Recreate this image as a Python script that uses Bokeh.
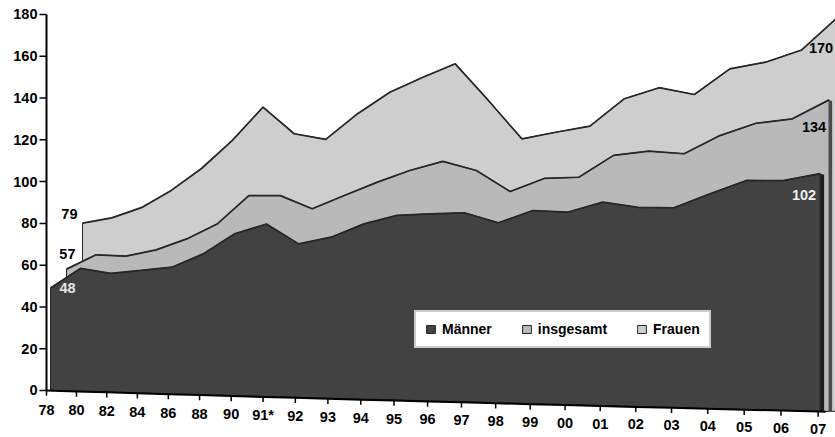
from bokeh.plotting import figure
from bokeh.models import Range1d, Legend, LegendItem
from bokeh.core.properties import value
from bokeh.embed import file_html
from bokeh.resources import INLINE

# ---------------- data ----------------
years = ["78", "80", "82", "84", "86", "88", "90", "91*", "92", "93", "94", "95",
         "96", "97", "98", "99", "00", "01", "02", "03", "04", "05", "06", "07"]
maenner = [48, 57.5, 55.3, 56.9, 58.6, 65.0, 74.5, 79.1, 70.0, 73.2, 79.4, 83.3,
           84.1, 84.6, 80.1, 85.7, 85.0, 89.5, 87.2, 87.1, 93.2, 99.1, 99.0, 102]
insgesamt = [57, 64.0, 63.5, 66.6, 71.9, 79.1, 92.3, 92.3, 86.2, 92.4, 98.4, 103.8,
             107.9, 103.7, 94.2, 100.1, 100.6, 110.3, 112.1, 110.9, 118.8, 124.1, 125.9, 134]
frauen = [79, 81.6, 86.5, 94.7, 105.0, 118.0, 133.5, 121.0, 118.3, 130.0, 139.7, 146.2,
          152.2, 135.4, 117.9, 120.8, 123.4, 135.5, 140.2, 137.0, 148.1, 150.8, 155.9, 170]
series_names = ["Männer", "insgesamt", "Frauen"]
y_ticks = [0, 20, 40, 60, 80, 100, 120, 140, 160, 180]

# ---------------- perspective helpers ----------------
N = len(years)
STEP = 29.8                      # px of one category step at the left edge
FONT = "Liberation Sans"


def t_of(i):
    return i / (N - 1)


def xtick(i):
    return i + 0.00547 * i * i


def xcat(i, d):
    t = t_of(i)
    return xtick(i) + ((4 - 2 * t) + d * (16 - 7 * t)) / STEP


def base(i):
    return -10.05 * t_of(i)


def ytop(v, i):
    t = t_of(i)
    return 1.1 - 9.91 * t + v * (1 + 0.104 * t)


p = figure(width=835, height=437,
           x_range=Range1d(-46 / STEP, 789 / STEP), y_range=Range1d(-22.50, 186.70),
           output_backend="svg", toolbar_location=None,
           x_axis_location=None, y_axis_location=None,
           min_border_left=0, min_border_right=0, min_border_top=0, min_border_bottom=0)
p.grid.visible = False
p.outline_line_color = None
p.background_fill_color = "white"

fills = ["#424242", "#b9b9b9", "#cecece"]
edge = "#262626"
data = [maenner, insgesamt, frauen]
renderers = {}
for d in [2, 1, 0]:
    vals = data[d]
    xs = [xcat(i, d) for i in range(N)] + [xcat(N - 1, d), xcat(0, d)]
    ys = [ytop(vals[i], i) for i in range(N)] + [base(N - 1), base(0)]
    r = p.patch(xs, ys, fill_color=fills[d], line_color=edge, line_width=1)
    renderers[d] = r
    p.line([xcat(i, d) for i in range(N)], [ytop(vals[i], i) for i in range(N)],
           line_color=edge, line_width=1.7)

# side faces at the right end
xe = xcat(N - 1, 0)
w = 4 / STEP
p.patch([xe, xe + w, xe + w, xe],
        [ytop(maenner[-1], N - 1), ytop(maenner[-1], N - 1) - 0.5, base(N - 1), base(N - 1)],
        fill_color="#1c1c1c", line_color=None)
xe1 = xcat(N - 1, 1)
p.patch([xe1, xe1 + 3 / STEP, xe1 + 3 / STEP, xe1],
        [ytop(insgesamt[-1], N - 1), ytop(insgesamt[-1], N - 1) - 0.5, base(N - 1), base(N - 1)],
        fill_color="#4a4a4a", line_color=None)

# x axis (slanted)
p.line([xtick(i) for i in range(N)] + [xtick(N - 1) + 0.25],
       [base(i) for i in range(N)] + [base(N - 1) - 0.1],
       line_color="black", line_width=2)
p.segment([xtick(i) for i in range(N)], [base(i) for i in range(N)],
          [xtick(i) for i in range(N)], [base(i) - 2.5 for i in range(N)],
          line_color="black", line_width=1.5)
p.text([xtick(i) for i in range(N)], [base(i) - (9.1 - 0.9 * t_of(i)) for i in range(N)],
       text=years, text_font=value(FONT), text_font_style="bold", text_font_size="14.5px",
       text_align="center", text_baseline="middle", text_color="black")

# y axis (vertical value axis at the left edge of the front plane)
p.line([0, 0], [y_ticks[0], y_ticks[-1]], line_color="black", line_width=2)
p.segment([0] * len(y_ticks), y_ticks, [-7 / STEP] * len(y_ticks), y_ticks,
          line_color="black", line_width=1.5)
p.text([-9 / STEP] * len(y_ticks), y_ticks, text=[str(v) for v in y_ticks],
       text_font=value(FONT), text_font_style="bold", text_font_size="14.5px",
       text_align="right", text_baseline="middle", text_color="black")

# value labels
lab_kw = dict(text_font=value(FONT), text_font_style="bold", text_font_size="14.5px",
              text_baseline="middle")
p.text([xcat(0, 2)], [ytop(frauen[0], 0)], text=[str(frauen[0])], x_offset=-5, y_offset=-9,
       text_align="right", text_color="black", **lab_kw)
p.text([xcat(0, 1)], [ytop(insgesamt[0], 0)], text=[str(insgesamt[0])], x_offset=9, y_offset=-15,
       text_align="right", text_color="black", **lab_kw)
p.text([xcat(0, 0)], [ytop(maenner[0], 0)], text=[str(maenner[0])], x_offset=9, y_offset=0,
       text_align="left", text_color="#e6e6e6", **lab_kw)
p.text([xe], [ytop(maenner[-1], N - 1)], text=[str(maenner[-1])], x_offset=-4, y_offset=21,
       text_align="right", text_color="#f0f0f0", **lab_kw)
p.text([xe], [ytop(insgesamt[-1], N - 1)], text=[str(insgesamt[-1])], x_offset=6, y_offset=27,
       text_align="right", text_color="black", **lab_kw)
p.text([xe], [ytop(frauen[-1], N - 1)], text=[str(frauen[-1])], x_offset=13, y_offset=31,
       text_align="right", text_color="black", **lab_kw)

legend = Legend(items=[LegendItem(label=series_names[d], renderers=[renderers[d]]) for d in range(3)],
                orientation="horizontal", location=(414, 89), margin=0, padding=9,
                spacing=29, label_standoff=6, glyph_width=11, glyph_height=10,
                label_height=10, label_text_font=FONT, label_text_font_style="bold",
                label_text_font_size="14px", label_text_color="black",
                border_line_color="#9a9a9a", border_line_width=2,
                background_fill_color="white", background_fill_alpha=1)
p.add_layout(legend)

open("out.html", "w").write(file_html(p, INLINE))
